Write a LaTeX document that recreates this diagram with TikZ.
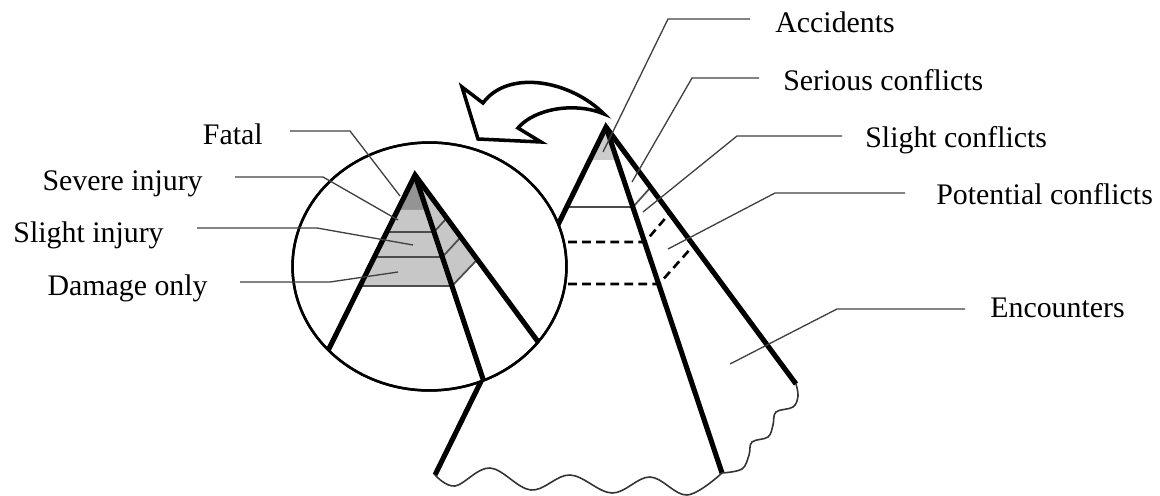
\documentclass[tikz,border=0pt]{standalone}
\usepackage{fontspec}
\setmainfont{Liberation Serif}
\begin{document}
\begin{tikzpicture}[x=0.02cm,y=-0.02cm,
  edge/.style={line width=2.9pt,line join=miter},
  lvl/.style={line width=1pt,black!70},
  dashlvl/.style={line width=1.5pt,dash pattern=on 5pt off 3pt},
  leader/.style={line width=0.75pt,black!75},
  wave/.style={line width=0.9pt,black!80},
  lab/.style={inner sep=0pt,font=\fontsize{17pt}{20pt}\selectfont}]

\useasboundingbox (0,0) rectangle (1160,496);

% big pyramid
\coordinate (A) at (606,127);
\coordinate (BL) at (435,475);
\coordinate (BM) at (722,473);
\coordinate (BR) at (796,384);

\fill[black!20] (A) -- (589,160) -- (618,160) -- cycle;
\draw[lvl] (566,207) -- (633,207) -- (650,188);
\draw[dashlvl] (540,242) -- (645,242) -- (669,214);
\draw[dashlvl] (540,284) -- (659,284) -- (693,246);
\draw[edge] (BL) -- (A) -- (BR);
\draw[edge] (A) -- (BM);
\draw[wave] plot[smooth,tension=0.6] coordinates {(BL) (455,486) (490,468) (531,490) (570,475) (612,493) (650,477) (687,495) (BM)};
\draw[wave] plot[smooth,tension=0.6] coordinates {(BM) (742,469) (749,455) (752,442) (768,437) (773,425) (776,412) (793,407) (798,396) (BR)};

% magnifier
\draw[line width=1.4pt,fill=white] (429.5,266.5) ellipse [x radius=2.74cm,y radius=2.48cm];

% small pyramid
\coordinate (a) at (415,175);
\begin{scope}
\clip (429.5,266.5) ellipse [x radius=2.74cm,y radius=2.48cm];
\fill[black!42] (a) -- (397.7,210) -- (426.7,210) -- cycle;
\fill[black!22] (397.7,210) -- (360,286) -- (452,286) -- (426.7,210) -- cycle;
\fill[black!22] (a) -- (452,286) -- (477.4,259.4) -- cycle;
\draw[lvl] (386.8,232) -- (434,232) -- (446.8,218);
\draw[lvl] (374.4,257) -- (442.4,257) -- (460.8,237);
\draw[lvl] (360,286) -- (452,286) -- (477.4,259.4);
\draw[edge] (303.6,400) -- (a) -- (581,400);
\draw[edge] (a) -- (490,400);
\end{scope}
\draw[line width=1.4pt] (429.5,266.5) ellipse [x radius=2.74cm,y radius=2.48cm];

% arrow
\draw[line width=2pt,fill=white,line join=miter] (604,114) .. controls (570,80) and (508,69) .. (483,103) -- (462,87) -- (478,139) -- (541,142) -- (518,128) .. controls (535,108) and (576,102) .. cycle;

% labels
\node[lab,anchor=base west] (acc) at (775,33) {Accidents};
\node[lab,anchor=base west] (ser) at (783,91) {Serious conflicts};
\node[lab,anchor=base west] (sli) at (865,148) {Slight conflicts};
\node[lab,anchor=base west] (pot) at (936,205) {Potential conflicts};
\node[lab,anchor=base west] (enc) at (990,318) {Encounters};

\node[lab,anchor=base east] (fat) at (263,145) {Fatal};
\node[lab,anchor=base east] (sev) at (203,191) {Severe injury};
\node[lab,anchor=base east] (sin) at (164,243) {Slight injury};
\node[lab,anchor=base east] (dam) at (208,296) {Damage only};

% leaders
\coordinate (accp) at (603,152);
\coordinate (serp) at (632,182);
\coordinate (slip) at (643,212);
\coordinate (potp) at (668,249);
\coordinate (encp) at (730,364);
\coordinate (fatp) at (400,196);
\coordinate (sevp) at (398,220);
\coordinate (sinp) at (413,245);
\coordinate (damp) at (398,272);

\draw[leader] ([shift={(-25,-14)}]acc.base west) -- (668,19) -- (accp);
\draw[leader] ([shift={(-24,-13)}]ser.base west) -- (692,78) -- (serp);
\draw[leader] ([shift={(-23,-12)}]sli.base west) -- (737,136) -- (slip);
\draw[leader] ([shift={(-31,-12)}]pot.base west) -- (775,193) -- (potp);
\draw[leader] ([shift={(-25,-9)}]enc.base west) -- (837,309) -- (encp);

\draw[leader] ([shift={(27,-14)}]fat.base east) -- (350,131) -- (fatp);
\draw[leader] ([shift={(32,-14)}]sev.base east) -- (323,177) -- (sevp);
\draw[leader] ([shift={(33,-15)}]sin.base east) -- (317,228) -- (sinp);
\draw[leader] ([shift={(32,-14)}]dam.base east) -- (330,282) -- (damp);

\end{tikzpicture}
\end{document}
